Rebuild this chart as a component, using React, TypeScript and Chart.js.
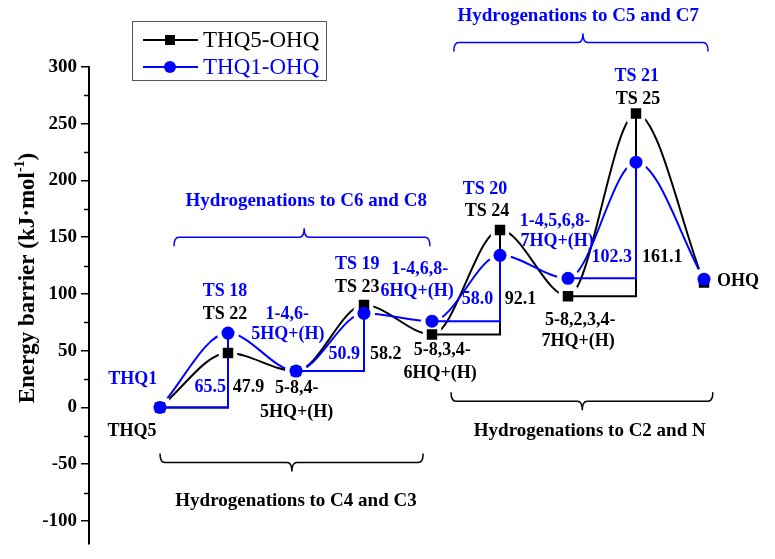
import React, { useEffect, useRef } from 'react';
import { Chart, registerables } from 'chart.js';

Chart.register(...registerables);

// ---------- data ----------
const stageIndex = [0, 1, 2, 3, 4, 5, 6, 7, 8];
const thq5Names = ['THQ5', 'TS 22', '5-8,4-5HQ+(H)', 'TS 23', '5-8,3,4-6HQ+(H)', 'TS 24', '5-8,2,3,4-7HQ+(H)', 'TS 25', 'OHQ'];
const thq1Names = ['THQ1', 'TS 18', '1-4,6-5HQ+(H)', 'TS 19', '1-4,6,8-6HQ+(H)', 'TS 20', '1-4,5,6,8-7HQ+(H)', 'TS 21', 'OHQ'];
const thq5Energy = [0, 47.9, 32.0, 90.2, 64.3, 156.4, 98.0, 259.1, 110];
const thq1Energy = [0, 65.5, 32.0, 82.9, 76.0, 134.0, 113.8, 216.1, 113];
const thq5Barrier = ['47.9', '58.2', '92.1', '161.1'];
const thq1Barrier = ['65.5', '50.9', '58.0', '102.3'];
const seriesNames = ['THQ5-OHQ', 'THQ1-OHQ'];
const groupNames = [
  'Hydrogenations to C4 and C3',
  'Hydrogenations to C6 and C8',
  'Hydrogenations to C2 and N',
  'Hydrogenations to C5 and C7',
];
const yMin = -120;
const yMax = 300;
const yStep = 50;
const yMinorStep = 25;

const BLUE = '#0000ff';
const BLACK = '#000000';
const SERIF = '"Liberation Serif", "Times New Roman", serif';

function curve(values: number[]) {
  return stageIndex.map((i) => ({ x: i, y: values[i] }));
}

// barrier steps: horizontal from intermediate to TS position, then vertical to TS energy
function steps(values: number[]) {
  const out: { x: number; y: number | null }[] = [];
  for (let i = 0; i + 1 < values.length; i += 2) {
    out.push({ x: stageIndex[i], y: values[i] });
    out.push({ x: stageIndex[i + 1], y: values[i] });
    out.push({ x: stageIndex[i + 1], y: values[i + 1] });
    out.push({ x: stageIndex[i + 1], y: null });
  }
  return out;
}

// ---------- annotation layout (data coords) ----------
type Ann = { t: string; x: number; y: number; c: string; a: CanvasTextAlign };
const annotations: Ann[] = [
  { t: thq1Names[0], x: -0.40, y: 25.0, c: BLUE, a: 'center' },
  { t: thq5Names[0], x: -0.41, y: -20.9, c: BLACK, a: 'center' },
  { t: thq1Names[1], x: 0.956, y: 102.3, c: BLUE, a: 'center' },
  { t: thq5Names[1], x: 0.956, y: 82.1, c: BLACK, a: 'center' },
  { t: thq1Barrier[0], x: 0.97, y: 17.9, c: BLUE, a: 'right' },
  { t: thq5Barrier[0], x: 1.07, y: 17.9, c: BLACK, a: 'left' },
  { t: '1-4,6-', x: 1.87, y: 82.1, c: BLUE, a: 'center' },
  { t: '5HQ+(H)', x: 1.88, y: 64.5, c: BLUE, a: 'center' },
  { t: '5-8,4-', x: 2.01, y: 17.0, c: BLACK, a: 'center' },
  { t: '5HQ+(H)', x: 2.01, y: -4.1, c: BLACK, a: 'center' },
  { t: thq1Names[3], x: 2.90, y: 126.2, c: BLUE, a: 'center' },
  { t: thq5Names[3], x: 2.90, y: 105.9, c: BLACK, a: 'center' },
  { t: thq1Barrier[1], x: 2.94, y: 46.9, c: BLUE, a: 'right' },
  { t: thq5Barrier[1], x: 3.09, y: 46.9, c: BLACK, a: 'left' },
  { t: '1-4,6,8-', x: 3.82, y: 121.8, c: BLUE, a: 'center' },
  { t: '6HQ+(H)', x: 3.78, y: 102.4, c: BLUE, a: 'center' },
  { t: '5-8,3,4-', x: 4.15, y: 50.4, c: BLACK, a: 'center' },
  { t: '6HQ+(H)', x: 4.12, y: 30.2, c: BLACK, a: 'center' },
  { t: thq1Barrier[2], x: 4.90, y: 95.4, c: BLUE, a: 'right' },
  { t: thq5Barrier[2], x: 5.07, y: 95.4, c: BLACK, a: 'left' },
  { t: thq1Names[5], x: 4.78, y: 192.2, c: BLUE, a: 'center' },
  { t: thq5Names[5], x: 4.81, y: 172.8, c: BLACK, a: 'center' },
  { t: '1-4,5,6,8-', x: 5.81, y: 164.0, c: BLUE, a: 'center' },
  { t: '7HQ+(H)', x: 5.84, y: 146.4, c: BLUE, a: 'center' },
  { t: '5-8,2,3,4-', x: 6.18, y: 76.9, c: BLACK, a: 'center' },
  { t: '7HQ+(H)', x: 6.15, y: 58.4, c: BLACK, a: 'center' },
  { t: thq1Barrier[3], x: 6.94, y: 132.4, c: BLUE, a: 'right' },
  { t: thq5Barrier[3], x: 7.09, y: 132.4, c: BLACK, a: 'left' },
  { t: thq1Names[7], x: 7.01, y: 291.7, c: BLUE, a: 'center' },
  { t: thq5Names[7], x: 7.03, y: 271.5, c: BLACK, a: 'center' },
  { t: thq5Names[8], x: 8.19, y: 111.0, c: BLACK, a: 'left' },
];

type Br = { x1: number; x2: number; xm: number; y: number; dir: number; c: string; label: string; lx: number; ly: number };
const brackets: Br[] = [
  { x1: 0.0, x2: 3.87, xm: 1.94, y: -48.5, dir: -1, c: BLACK, label: groupNames[0], lx: 2.0, ly: -82.8 },
  { x1: 0.206, x2: 3.97, xm: 2.12, y: 149.9, dir: 1, c: BLUE, label: groupNames[1], lx: 2.15, ly: 181.7 },
  { x1: 4.28, x2: 8.13, xm: 6.21, y: 5.5, dir: -1, c: BLACK, label: groupNames[2], lx: 6.32, ly: -20.9 },
  { x1: 4.32, x2: 8.06, xm: 6.22, y: 321.6, dir: 1, c: BLUE, label: groupNames[3], lx: 6.15, ly: 344.5 },
];

const overlayPlugin = {
  id: 'overlay',
  afterDraw(chart: any) {
    const ctx: CanvasRenderingContext2D = chart.ctx;
    const xs = chart.scales.x;
    const ys = chart.scales.y;
    const area = chart.chartArea;
    const px = (v: number) => xs.getPixelForValue(v);
    const py = (v: number) => ys.getPixelForValue(v);

    ctx.save();
    // minor ticks
    ctx.strokeStyle = BLACK;
    ctx.lineWidth = 1.5;
    for (let v = Math.ceil(yMin / yMinorStep) * yMinorStep; v <= yMax; v += yMinorStep) {
      if (v % yStep === 0) continue;
      const y = Math.round(py(v)) + 0.5;
      ctx.beginPath();
      ctx.moveTo(area.left - 5, y);
      ctx.lineTo(area.left, y);
      ctx.stroke();
    }

    // annotations
    ctx.font = `bold 18px ${SERIF}`;
    ctx.textBaseline = 'middle';
    for (const a of annotations) {
      ctx.fillStyle = a.c;
      ctx.textAlign = a.a;
      ctx.fillText(a.t, px(a.x), py(a.y));
    }

    // brackets
    ctx.font = `bold 19px ${SERIF}`;
    for (const b of brackets) {
      const x1 = px(b.x1), x2 = px(b.x2), xm = px(b.xm), y = py(b.y);
      const d = 9 * b.dir;
      const r = 5;
      ctx.strokeStyle = b.c;
      ctx.lineWidth = 1.5;
      ctx.beginPath();
      ctx.moveTo(x1, y + d);
      ctx.quadraticCurveTo(x1, y, x1 + r, y);
      ctx.lineTo(xm - r, y);
      ctx.quadraticCurveTo(xm, y, xm, y - d);
      ctx.quadraticCurveTo(xm, y, xm + r, y);
      ctx.lineTo(x2 - r, y);
      ctx.quadraticCurveTo(x2, y, x2, y + d);
      ctx.stroke();
      ctx.fillStyle = b.c;
      ctx.textAlign = 'center';
      ctx.fillText(b.label, px(b.lx), py(b.ly));
    }

    // legend
    const lx = area.left + 43;
    const ly = 21;
    ctx.strokeStyle = '#555';
    ctx.lineWidth = 1;
    ctx.strokeRect(lx + 0.5, ly + 0.5, 194, 59);
    const rows = [
      { name: seriesNames[0], c: BLACK, shape: 'rect', y: ly + 19 },
      { name: seriesNames[1], c: BLUE, shape: 'circle', y: ly + 46 },
    ];
    for (const r of rows) {
      ctx.strokeStyle = r.c;
      ctx.fillStyle = r.c;
      ctx.lineWidth = 2;
      ctx.beginPath();
      ctx.moveTo(lx + 11, r.y);
      ctx.lineTo(lx + 66, r.y);
      ctx.stroke();
      if (r.shape === 'rect') ctx.fillRect(lx + 38 - 5, r.y - 5, 10, 10);
      else {
        ctx.beginPath();
        ctx.arc(lx + 38, r.y, 6, 0, Math.PI * 2);
        ctx.fill();
      }
      ctx.font = `23px ${SERIF}`;
      ctx.textAlign = 'left';
      ctx.textBaseline = 'middle';
      ctx.fillText(r.name, lx + 71, r.y + 1);
    }

    // y-axis title with superscript
    ctx.translate(28, area.top + 211);
    ctx.rotate(-Math.PI / 2);
    ctx.fillStyle = BLACK;
    ctx.textBaseline = 'middle';
    ctx.textAlign = 'left';
    const big = `bold 23px ${SERIF}`;
    const small = `bold 14px ${SERIF}`;
    const t1 = 'Energy barrier (kJ·mol';
    const t2 = '-1';
    const t3 = ')';
    ctx.font = big;
    const w1 = ctx.measureText(t1).width;
    const w3 = ctx.measureText(t3).width;
    ctx.font = small;
    const w2 = ctx.measureText(t2).width;
    let x0 = -(w1 + w2 + w3) / 2;
    ctx.font = big;
    ctx.fillText(t1, x0, 0);
    x0 += w1;
    ctx.font = small;
    ctx.fillText(t2, x0, -8);
    x0 += w2;
    ctx.font = big;
    ctx.fillText(t3, x0, 0);
    ctx.restore();
  },
};

export default function App() {
  const ref = useRef<HTMLCanvasElement | null>(null);
  useEffect(() => {
    if (!ref.current) return;
    const chart = new Chart(ref.current, {
      type: 'line',
      data: {
        datasets: [
          // markers (on top)
          {
            label: seriesNames[1],
            data: curve(thq1Energy),
            showLine: false,
            pointStyle: 'circle',
            pointRadius: 6.5,
            pointBackgroundColor: BLUE,
            pointBorderWidth: 0,
          },
          {
            label: seriesNames[0],
            data: curve(thq5Energy),
            showLine: false,
            pointStyle: 'rect',
            pointRadius: 7.4,
            pointBackgroundColor: BLACK,
            pointBorderWidth: 0,
          },
          // barrier steps
          {
            label: 'THQ1 barrier',
            data: steps(thq1Energy),
            borderColor: BLUE,
            borderWidth: 2,
            pointRadius: 0,
            spanGaps: false,
            tension: 0,
          },
          {
            label: 'THQ5 barrier',
            data: steps(thq5Energy),
            borderColor: BLACK,
            borderWidth: 2,
            pointRadius: 0,
            spanGaps: false,
            tension: 0,
          },
          // white halos that leave a gap between curves and symbols
          {
            label: 'halo1',
            data: curve(thq1Energy),
            showLine: false,
            pointStyle: 'circle',
            pointRadius: 11,
            pointBackgroundColor: '#ffffff',
            pointBorderWidth: 0,
          },
          {
            label: 'halo5',
            data: curve(thq5Energy),
            showLine: false,
            pointStyle: 'rect',
            pointRadius: 13,
            pointBackgroundColor: '#ffffff',
            pointBorderWidth: 0,
          },
          // smooth curves
          {
            label: 'curve1',
            data: curve(thq1Energy),
            borderColor: BLUE,
            borderWidth: 2,
            cubicInterpolationMode: 'monotone',
            pointRadius: 0,
          },
          {
            label: 'curve5',
            data: curve(thq5Energy),
            borderColor: BLACK,
            borderWidth: 2,
            cubicInterpolationMode: 'monotone',
            pointRadius: 0,
          },
        ] as any,
      },
      options: {
        responsive: false,
        animation: false,
        layout: { padding: { top: 67, bottom: 14, right: 20, left: 0 } },
        plugins: { legend: { display: false }, tooltip: { enabled: false } },
        scales: {
          x: { type: 'linear', min: -1.044, max: 8.75, display: false },
          y: {
            type: 'linear',
            min: yMin,
            max: yMax,
            afterFit: (s: any) => {
              s.width = 89;
            },
            border: { display: true, color: BLACK, width: 2 },
            grid: { display: true, drawOnChartArea: false, drawTicks: true, tickLength: 8, color: BLACK, lineWidth: 1.5 },
            ticks: {
              stepSize: yStep,
              includeBounds: false,
              color: BLACK,
              padding: 4,
              font: { family: SERIF, size: 19, weight: 'bold' },
            },
          },
        },
      } as any,
      plugins: [overlayPlugin],
    });
    return () => chart.destroy();
  }, []);
  return (
    <div style={{ position: 'fixed', left: 0, top: 0, width: 775, height: 559, background: '#fff' }}>
      <canvas ref={ref} width={775} height={559} style={{ display: 'block' }} />
    </div>
  );
}
